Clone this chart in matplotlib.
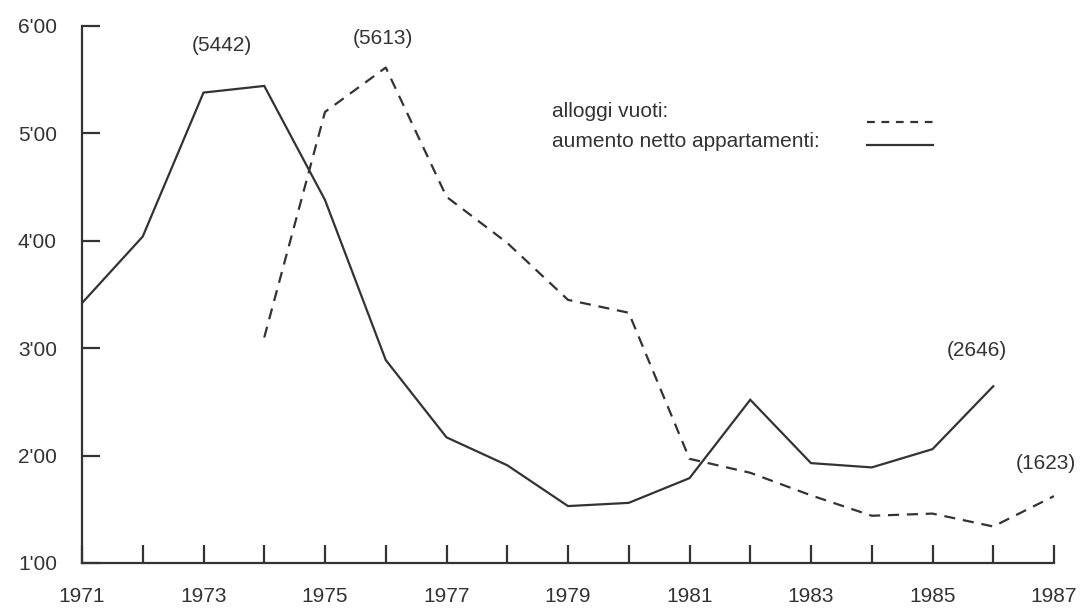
import numpy as np
import matplotlib
matplotlib.use("Agg")
import matplotlib.pyplot as plt

plt.rcParams['font.family'] = ['Liberation Sans', 'DejaVu Sans']

# dati
anni_aumento = np.arange(1971, 1987)
aumento = [3420, 4040, 5380, 5442, 4380, 2890, 2170, 1910, 1530, 1560,
           1790, 2520, 1930, 1890, 2060, 2646]

anni_vuoti = np.arange(1974, 1988)
vuoti = [3100, 5200, 5613, 4410, 3980, 3450, 3330, 1970, 1840, 1630,
         1440, 1460, 1340, 1623]

x_ticks = np.arange(1971, 1988)
x_labels = [str(a) if a % 2 == 1 else "" for a in x_ticks]
y_ticks = [1000, 2000, 3000, 4000, 5000, 6000]
y_labels = ["1'00", "2'00", "3'00", "4'00", "5'00", "6'00"]

# valori annotati: (anno, valore, testo, offset in pixel)
note = [(1974, 5442, "(5442)", (-42, 40)),
        (1976, 5613, "(5613)", (-3, 29)),
        (1986, 2646, "(2646)", (-16, 36)),
        (1987, 1623, "(1623)", (-8, 33))]

col = "#333333"

fig = plt.figure(figsize=(10.85, 6.08), dpi=100)
ax = fig.add_axes([82/1085, 45/608, 972/1085, 537/608])

ax.plot(anni_aumento, aumento, color=col, lw=1.6, solid_joinstyle="miter")
ax.plot(anni_vuoti, vuoti, color=col, lw=1.6, linestyle=(0, (5, 3.5)))

for anno, val, txt, off in note:
    ax.annotate(txt, xy=(anno, val), xytext=off, textcoords="offset pixels",
                ha="center", va="center", fontsize=15, color=col)

# legenda disegnata a mano (testo a sinistra, tratto a destra)
ax.text(0.4835, 0.840, "alloggi vuoti:", transform=ax.transAxes,
        ha="left", va="center", fontsize=15, color=col)
ax.text(0.4835, 0.784, "aumento netto appartamenti:", transform=ax.transAxes,
        ha="left", va="center", fontsize=15, color=col)
ax.plot([0.8076, 0.8755], [0.822, 0.822], transform=ax.transAxes,
        color=col, lw=1.6, linestyle=(0, (3.5, 3)))
ax.plot([0.8076, 0.8755], [0.778, 0.778], transform=ax.transAxes,
        color=col, lw=1.6)

ax.set_xlim(1971, 1987)
ax.set_ylim(1000, 6000)
ax.set_xticks(x_ticks)
ax.set_xticklabels(x_labels)
ax.set_yticks(y_ticks)
ax.set_yticklabels(y_labels)

for s in ["top", "right"]:
    ax.spines[s].set_visible(False)
for s in ["left", "bottom"]:
    ax.spines[s].set_color(col)
    ax.spines[s].set_linewidth(1.6)

ax.tick_params(axis="both", direction="in", length=13, width=1.6,
               colors=col, labelsize=15)
ax.tick_params(axis="x", pad=17)
ax.tick_params(axis="y", pad=18)

fig.savefig("out.png", dpi=100)
